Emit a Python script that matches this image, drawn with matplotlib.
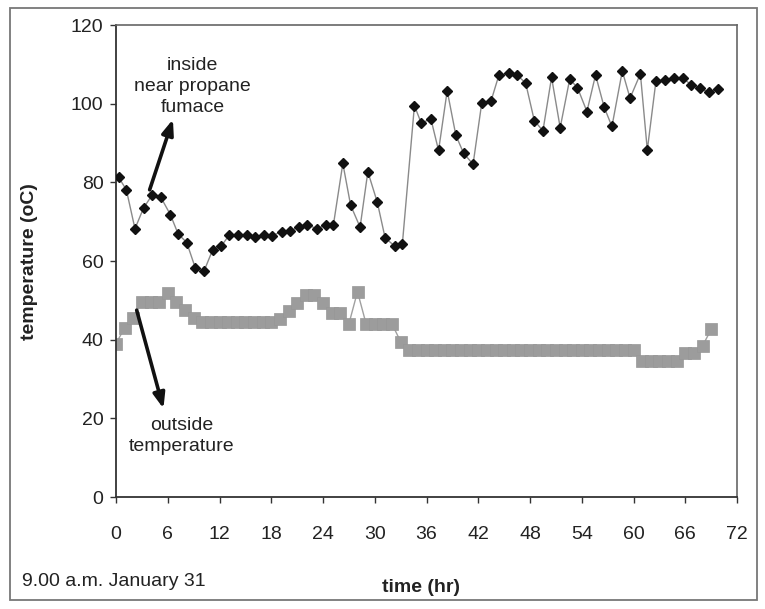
import matplotlib
matplotlib.use("Agg")
import matplotlib.pyplot as plt
from matplotlib.patches import Rectangle

plt.rcParams['font.family'] = ['Liberation Sans', 'DejaVu Sans']

# inside, near the propane furnace (black diamonds)
inside_hr = [0.3, 1.2, 2.2, 3.2, 4.2, 5.2, 6.3, 7.2, 8.2, 9.2,
             10.2, 11.2, 12.2, 13.1, 14.1, 15.2, 16.1, 17.2, 18.1, 19.2,
             20.2, 21.2, 22.2, 23.3, 24.3, 25.2, 26.3, 27.2, 28.3, 29.2,
             30.3, 31.2, 32.3, 33.2, 34.6, 35.4, 36.5, 37.4, 38.4, 39.4,
             40.3, 41.4, 42.4, 43.5, 44.4, 45.6, 46.5, 47.5, 48.5, 49.5,
             50.5, 51.5, 52.6, 53.5, 54.6, 55.6, 56.6, 57.5, 58.7, 59.6,
             60.8, 61.6, 62.6, 63.7, 64.7, 65.7, 66.7, 67.7, 68.7, 69.8]
inside_temp = [81.3, 78.1, 68.2, 73.5, 76.8, 76.2, 71.8, 66.9, 64.7, 58.2,
               57.4, 62.8, 63.8, 66.5, 66.5, 66.5, 66.0, 66.5, 66.4, 67.5,
               67.6, 68.7, 69.2, 68.2, 69.1, 69.1, 84.8, 74.2, 68.6, 82.7,
               74.9, 65.9, 63.8, 64.3, 99.5, 95.0, 96.2, 88.1, 103.3, 92.0,
               87.4, 84.6, 100.1, 100.8, 107.3, 107.7, 107.3, 105.2, 95.7, 93.1,
               106.7, 93.9, 106.2, 104.1, 98.0, 107.3, 99.1, 94.2, 108.3, 101.4,
               107.6, 88.2, 105.7, 106.0, 106.5, 106.5, 104.8, 103.9, 102.9, 103.7]

# outside temperature (grey squares), hourly
outside_hr = list(range(70))
outside_temp = [39.0, 43.0, 45.6, 49.7, 49.7, 49.7, 51.8, 49.7, 47.5, 45.4,
                44.4, 44.4, 44.4, 44.4, 44.4, 44.4, 44.4, 44.4, 44.4, 45.2,
                47.3, 49.3, 51.4, 51.4, 49.3, 46.9, 46.9, 44.0, 52.2, 44.0,
                44.0, 44.0, 44.0, 39.5, 37.4, 37.4, 37.4, 37.4, 37.4, 37.4,
                37.4, 37.4, 37.4, 37.4, 37.4, 37.4, 37.4, 37.4, 37.4, 37.4,
                37.4, 37.4, 37.4, 37.4, 37.4, 37.4, 37.4, 37.4, 37.4, 37.4,
                37.4, 34.6, 34.6, 34.6, 34.6, 34.6, 36.7, 36.7, 38.4, 42.6]

x_ticks = list(range(0, 73, 6))
y_ticks = list(range(0, 121, 20))

W, H = 765, 609
fig = plt.figure(figsize=(W / 100, H / 100), dpi=100)
fig.patch.set_facecolor("white")
ax = fig.add_axes([116 / W, 1 - 497 / H, (737 - 116) / W, (497 - 25) / H])

ax.plot(outside_hr, outside_temp, color="#a0a0a0", lw=1.0, marker="s",
        ms=8, mfc="#9c9c9c", mec="#979797", mew=0.5, zorder=2)
ax.plot(inside_hr, inside_temp, color="#8a8a8a", lw=1.0, marker="D",
        ms=4.6, mfc="#111111", mec="#111111", zorder=3)

ax.set_xlim(0, 72)
ax.set_ylim(0, 120)
ax.set_xticks(x_ticks)
ax.set_yticks(y_ticks)
ax.tick_params(axis="x", direction="out", length=4, width=1, pad=17,
               labelsize=14, colors="#333333", labelcolor="#222222")
ax.tick_params(axis="y", direction="out", length=4, width=1, pad=5,
               labelsize=14, colors="#333333", labelcolor="#222222")
for side in ["left", "bottom"]:
    ax.spines[side].set_color("#333333")
    ax.spines[side].set_linewidth(1.3)
for side in ["top", "right"]:
    ax.spines[side].set_color("#666666")
    ax.spines[side].set_linewidth(1.2)

# annotations
arrow = dict(arrowstyle="-|>,head_length=0.9,head_width=0.35",
             color="#111111", lw=2.6, shrinkA=0, shrinkB=0)
ax.text(8.9, 104.4, "inside\nnear propane\nfumace", ha="center", va="center",
        fontsize=14, color="#222222", linespacing=1.3)
ax.annotate("", xy=(6.6, 96.0), xytext=(3.9, 78.1), arrowprops=arrow)
ax.text(7.6, 15.6, "outside\ntemperature", ha="center", va="center",
        fontsize=14, color="#222222", linespacing=1.3)
ax.annotate("", xy=(5.5, 22.5), xytext=(2.4, 47.5), arrowprops=arrow)

fig.text(30 / W, 1 - 262 / H, "temperature (oC)", rotation=90, ha="center",
         va="center", fontsize=14, fontweight="bold", color="#222222")
fig.text(421 / W, 1 - 587 / H, "time (hr)", ha="center", va="center",
         fontsize=14, fontweight="bold", color="#222222")
fig.text(22 / W, 1 - 582 / H, "9.00 a.m. January 31", ha="left", va="center",
         fontsize=14, color="#222222")

# chart border
fig.patches.append(Rectangle((10 / W, 1 - 600 / H), 747 / W, 592 / H,
                             transform=fig.transFigure, fill=False,
                             edgecolor="#777777", lw=1.3))

fig.savefig("out.png", dpi=100)
